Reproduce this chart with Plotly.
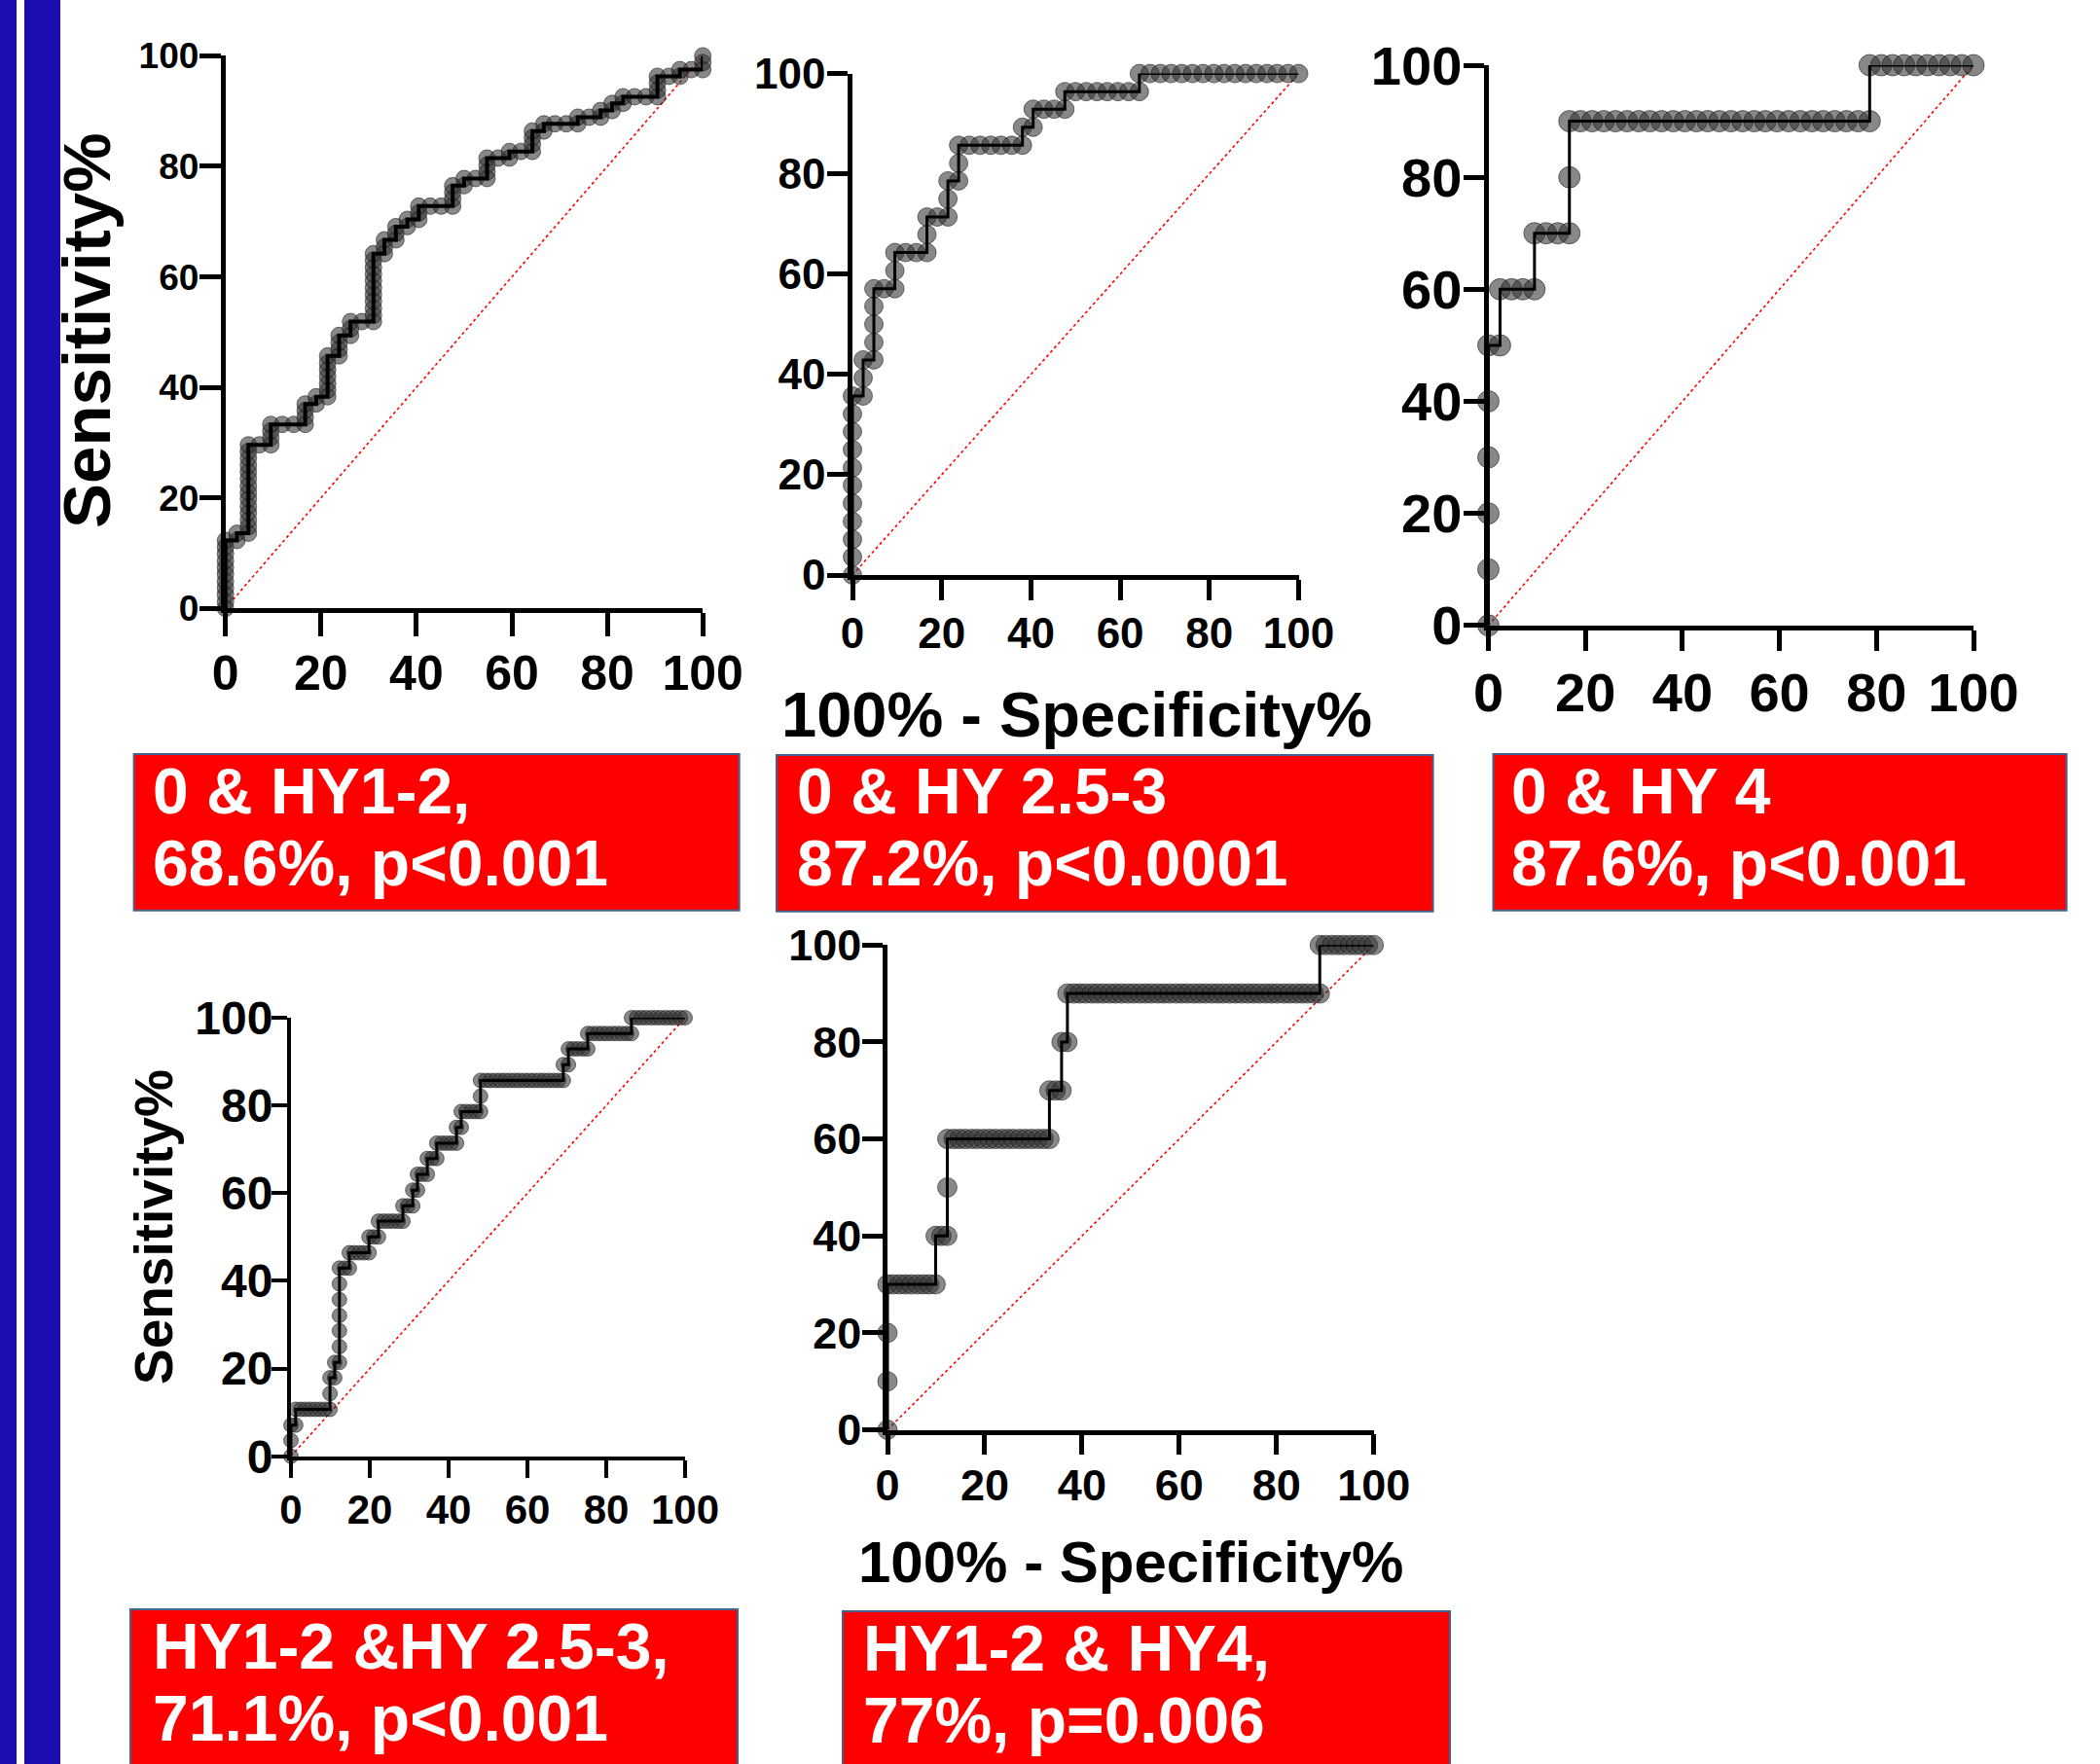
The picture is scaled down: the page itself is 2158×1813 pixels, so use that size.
import plotly.graph_objects as go

W, H = 2158, 1813
FONT = "Liberation Sans, Arial, sans-serif"

# ---------------- data: (100% - Specificity%, Sensitivity%) ----------------
# Panel 1: 0 & HY1-2
p1_x = [0, 0, 0, 0, 0, 0, 0, 0, 0, 0, 0,
        2.4, 2.4,
        4.8, 4.8, 4.8, 4.8, 4.8, 4.8, 4.8, 4.8, 4.8, 4.8, 4.8, 4.8, 4.8, 4.8,
        7.1,
        9.5, 9.5, 9.5, 9.5,
        11.9, 14.3,
        16.7, 16.7, 16.7, 16.7,
        19.0, 19.0,
        21.4, 21.4, 21.4, 21.4, 21.4, 21.4, 21.4,
        23.8, 23.8, 23.8, 23.8,
        26.2, 26.2, 26.2,
        28.6,
        31.0, 31.0, 31.0, 31.0, 31.0, 31.0, 31.0, 31.0, 31.0, 31.0, 31.0,
        33.3, 33.3, 33.3,
        35.7, 35.7, 35.7,
        38.1, 38.1,
        40.5, 40.5, 40.5,
        42.9, 45.2,
        47.6, 47.6, 47.6, 47.6,
        50.0, 50.0,
        52.4,
        54.8, 54.8, 54.8, 54.8,
        57.1,
        59.5, 59.5,
        61.9,
        64.3, 64.3, 64.3, 64.3,
        66.7, 66.7,
        69.0, 71.4,
        73.8, 73.8,
        76.2,
        78.6, 78.6,
        81.0, 81.0,
        83.3, 83.3,
        85.7, 88.1,
        90.5, 90.5, 90.5, 90.5,
        92.9,
        95.2, 95.2,
        97.6,
        100, 100, 100]
p1_y = [0, 1.2, 2.5, 3.7, 4.9, 6.2, 7.4, 8.6, 9.9, 11.1, 12.3,
        12.3, 13.6,
        13.6, 14.8, 16.0, 17.3, 18.5, 19.8, 21.0, 22.2, 23.5, 24.7, 25.9, 27.2, 28.4, 29.6,
        29.6,
        29.6, 30.9, 32.1, 33.3,
        33.3, 33.3,
        33.3, 34.6, 35.8, 37.0,
        37.0, 38.3,
        38.3, 39.5, 40.7, 42.0, 43.2, 44.4, 45.7,
        45.7, 46.9, 48.1, 49.4,
        49.4, 50.6, 51.9,
        51.9,
        51.9, 53.1, 54.3, 55.6, 56.8, 58.0, 59.3, 60.5, 61.7, 63.0, 64.2,
        64.2, 65.4, 66.7,
        66.7, 67.9, 69.1,
        69.1, 70.4,
        70.4, 71.6, 72.8,
        72.8, 72.8,
        72.8, 74.1, 75.3, 76.5,
        76.5, 77.8,
        77.8,
        77.8, 79.0, 80.2, 81.5,
        81.5,
        81.5, 82.7,
        82.7,
        82.7, 84.0, 85.2, 86.4,
        86.4, 87.7,
        87.7, 87.7,
        87.7, 88.9,
        88.9,
        88.9, 90.1,
        90.1, 91.4,
        91.4, 92.6,
        92.6, 92.6,
        92.6, 93.8, 95.1, 96.3,
        96.3,
        96.3, 97.5,
        97.5,
        97.5, 98.8, 100]

# Panel 2: 0 & HY 2.5-3
p2_x = [0, 0, 0, 0, 0, 0, 0, 0, 0, 0, 0,
        2.4, 2.4, 2.4,
        4.8, 4.8, 4.8, 4.8, 4.8,
        7.1,
        9.5, 9.5, 9.5,
        11.9, 14.3,
        16.7, 16.7, 16.7,
        19.0,
        21.4, 21.4, 21.4,
        23.8, 23.8, 23.8,
        26.2, 28.6, 31.0, 33.3, 35.7, 38.1, 38.1,
        40.5, 40.5,
        42.9, 45.2, 47.6, 47.6,
        50.0, 52.4, 54.8, 57.1, 59.5, 61.9, 64.3, 64.3,
        66.7, 69.0, 71.4, 73.8, 76.2, 78.6, 81.0, 83.3, 85.7, 88.1, 90.5, 92.9, 95.2, 97.6, 100]
p2_y = [0, 3.6, 7.1, 10.7, 14.3, 17.9, 21.4, 25.0, 28.6, 32.1, 35.7,
        35.7, 39.3, 42.9,
        42.9, 46.4, 50.0, 53.6, 57.1,
        57.1,
        57.1, 60.7, 64.3,
        64.3, 64.3,
        64.3, 67.9, 71.4,
        71.4,
        71.4, 75.0, 78.6,
        78.6, 82.1, 85.7,
        85.7, 85.7, 85.7, 85.7, 85.7, 85.7, 89.3,
        89.3, 92.9,
        92.9, 92.9, 92.9, 96.4,
        96.4, 96.4, 96.4, 96.4, 96.4, 96.4, 96.4, 100,
        100, 100, 100, 100, 100, 100, 100, 100, 100, 100, 100, 100, 100, 100, 100]

# Panel 3: 0 & HY 4
p3_x = [0, 0, 0, 0, 0, 0,
        2.4, 2.4, 4.8, 7.1, 9.5,
        9.5, 11.9, 14.3, 16.7,
        16.7, 16.7,
        19.0, 21.4, 23.8, 26.2, 28.6, 31.0, 33.3, 35.7, 38.1, 40.5, 42.9, 45.2, 47.6,
        50.0, 52.4, 54.8, 57.1, 59.5, 61.9, 64.3, 66.7, 69.0, 71.4, 73.8, 76.2, 78.6,
        78.6, 81.0, 83.3, 85.7, 88.1, 90.5, 92.9, 95.2, 97.6, 100]
p3_y = [0, 10, 20, 30, 40, 50,
        50, 60, 60, 60, 60,
        70, 70, 70, 70,
        80, 90,
        90, 90, 90, 90, 90, 90, 90, 90, 90, 90, 90, 90, 90,
        90, 90, 90, 90, 90, 90, 90, 90, 90, 90, 90, 90, 90,
        100, 100, 100, 100, 100, 100, 100, 100, 100, 100]

# Panel 4: HY1-2 & HY 2.5-3
p4_x = [0, 0, 0,
        1.2, 1.2,
        2.5, 3.7, 4.9, 6.2, 7.4, 8.6, 9.9,
        9.9, 9.9,
        11.1, 11.1,
        12.3, 12.3, 12.3, 12.3, 12.3, 12.3, 12.3,
        13.6, 14.8, 14.8,
        16.0, 17.3, 18.5, 19.8, 19.8,
        21.0, 22.2, 22.2,
        23.5, 24.7, 25.9, 27.2, 28.4, 28.4,
        29.6, 30.9, 30.9,
        32.1, 32.1,
        33.3, 34.6, 34.6,
        35.8, 37.0, 37.0,
        38.3, 39.5, 40.7, 42.0, 42.0,
        43.2, 43.2,
        44.4, 45.7, 46.9, 48.1, 48.1, 48.1,
        49.4, 50.6, 51.9, 53.1, 54.3, 55.6, 56.8, 58.0, 59.3, 60.5, 61.7, 63.0, 64.2,
        65.4, 66.7, 67.9, 69.1,
        69.1,
        70.4, 70.4,
        71.6, 72.8, 74.1, 75.3, 75.3,
        76.5, 77.8, 79.0, 80.2, 81.5, 82.7, 84.0, 85.2, 86.4,
        86.4,
        87.7, 88.9, 90.1, 91.4, 92.6, 93.8, 95.1, 96.3, 97.5, 98.8, 100]
p4_y = [0, 3.6, 7.1,
        7.1, 10.7,
        10.7, 10.7, 10.7, 10.7, 10.7, 10.7, 10.7,
        14.3, 17.9,
        17.9, 21.4,
        21.4, 25.0, 28.6, 32.1, 35.7, 39.3, 42.9,
        42.9, 42.9, 46.4,
        46.4, 46.4, 46.4, 46.4, 50.0,
        50.0, 50.0, 53.6,
        53.6, 53.6, 53.6, 53.6, 53.6, 57.1,
        57.1, 57.1, 60.7,
        60.7, 64.3,
        64.3, 64.3, 67.9,
        67.9, 67.9, 71.4,
        71.4, 71.4, 71.4, 71.4, 75.0,
        75.0, 78.6,
        78.6, 78.6, 78.6, 78.6, 82.1, 85.7,
        85.7, 85.7, 85.7, 85.7, 85.7, 85.7, 85.7, 85.7, 85.7, 85.7, 85.7, 85.7, 85.7,
        85.7, 85.7, 85.7, 85.7,
        89.3,
        89.3, 92.9,
        92.9, 92.9, 92.9, 92.9, 96.4,
        96.4, 96.4, 96.4, 96.4, 96.4, 96.4, 96.4, 96.4, 96.4,
        100,
        100, 100, 100, 100, 100, 100, 100, 100, 100, 100, 100]

# Panel 5: HY1-2 & HY4
p5_x = [0, 0, 0, 0,
        1.2, 2.5, 3.7, 4.9, 6.2, 7.4, 8.6, 9.9,
        9.9, 11.1, 12.3, 12.3, 12.3,
        13.6, 14.8, 16.0, 17.3, 18.5, 19.8, 21.0, 22.2, 23.5, 24.7, 25.9, 27.2, 28.4,
        29.6, 30.9, 32.1, 33.3,
        33.3, 34.6, 35.8, 35.8, 37.0, 37.0,
        38.3, 39.5, 40.7, 42.0, 43.2, 44.4, 45.7, 46.9, 48.1, 49.4, 50.6, 51.9, 53.1, 54.3,
        55.6, 56.8, 58.0, 59.3, 60.5, 61.7, 63.0, 64.2, 65.4, 66.7, 67.9, 69.1, 70.4, 71.6,
        72.8, 74.1, 75.3, 76.5, 77.8, 79.0, 80.2, 81.5, 82.7, 84.0, 85.2, 86.4, 87.7, 88.9,
        88.9,
        90.1, 91.4, 92.6, 93.8, 95.1, 96.3, 97.5, 98.8, 100]
p5_y = [0, 10, 20, 30,
        30, 30, 30, 30, 30, 30, 30, 30,
        40, 40, 40, 50, 60,
        60, 60, 60, 60, 60, 60, 60, 60, 60, 60, 60, 60, 60,
        60, 60, 60, 60,
        70, 70, 70, 80, 80, 90,
        90, 90, 90, 90, 90, 90, 90, 90, 90, 90, 90, 90, 90, 90,
        90, 90, 90, 90, 90, 90, 90, 90, 90, 90, 90, 90, 90, 90,
        90, 90, 90, 90, 90, 90, 90, 90, 90, 90, 90, 90, 90, 90,
        100,
        100, 100, 100, 100, 100, 100, 100, 100, 100]

tick_vals = [0, 20, 40, 60, 80, 100]
tick_text = ["0", "20", "40", "60", "80", "100"]

x_title = "100% - Specificity%"
y_title = "Sensitivity%"

box_lines = [
    ["0 & HY1-2,", "68.6%, p<0.001"],
    ["0 & HY 2.5-3", "87.2%, p<0.0001"],
    ["0 & HY 4", "87.6%, p<0.001"],
    ["HY1-2 &HY 2.5-3,", "71.1%, p<0.001"],
    ["HY1-2 & HY4,", "77%, p=0.006"],
]

# ---------------- layout configuration (pixels) ----------------
panels = [
    dict(x=p1_x, y=p1_y, dom=(231.7, 722.2, 57.4, 625.3), ms=17, lw=4, aw=5, tlx=24, tly=22,
         fx=50, fy=37, sox=-5, soy=-7),
    dict(x=p2_x, y=p2_y, dom=(876, 1334.5, 75.6, 591), ms=19, lw=3, aw=4.5, tlx=21, tly=21,
         fx=44, fy=44, sox=-4, soy=-7),
    dict(x=p3_x, y=p3_y, dom=(1529.5, 2028, 67, 642.8), ms=22, lw=3, aw=5, tlx=21, tly=21,
         fx=56, fy=56, sox=-5, soy=-10),
    dict(x=p4_x, y=p4_y, dom=(299, 704, 1046, 1496.7), ms=15, lw=3, aw=4, tlx=18, tly=16,
         fx=42, fy=48, sox=-3, soy=-11),
    dict(x=p5_x, y=p5_y, dom=(912, 1411.7, 971.3, 1469.5), ms=20, lw=3, aw=4.5, tlx=21, tly=21,
         fx=45, fy=45, sox=-7, soy=-8),
]

# text baselines per box line (pixels from top)
boxes = [
    dict(x0=137.6, x1=759.7, y0=775, y1=935.7, tx=155.5, base=(836, 910)),
    dict(x0=798, x1=1472.6, y0=776, y1=936.7, tx=817.5, base=(836, 910)),
    dict(x0=1534.5, x1=2123.6, y0=775, y1=935.7, tx=1552, base=(836, 910)),
    dict(x0=134, x1=758, y0=1654, y1=1830, tx=155.5, base=(1715, 1789)),
    dict(x0=866, x1=1490, y0=1656, y1=1830, tx=886, base=(1717, 1791)),
]
BOX_FONT = 66


def px(v):
    return v / W


def py(v):
    return 1 - v / H


fig = go.Figure()
layout = dict(template="none", width=W, height=H, autosize=False,
              margin=dict(l=0, r=0, t=0, b=0, pad=0, autoexpand=False),
              paper_bgcolor="white", plot_bgcolor="white",
              showlegend=False)

for i, p in enumerate(panels, start=1):
    xa = "x" if i == 1 else f"x{i}"
    ya = "y" if i == 1 else f"y{i}"
    x0, x1, y0, y1 = p["dom"]
    common = dict(range=[0, 100], tickvals=tick_vals, ticktext=tick_text,
                  showline=True, linecolor="black", linewidth=p["aw"],
                  ticks="outside", tickcolor="black", tickwidth=p["aw"],
                  showgrid=False, zeroline=False, fixedrange=True, automargin=False)
    layout["xaxis" if i == 1 else f"xaxis{i}"] = dict(
        domain=[px(x0), px(x1)], anchor=ya, ticklen=p["tlx"], ticklabelstandoff=p["sox"],
        tickfont=dict(family=FONT, size=p["fx"], color="black", weight="bold"), **common)
    layout["yaxis" if i == 1 else f"yaxis{i}"] = dict(
        domain=[py(y1), py(y0)], anchor=xa, ticklen=p["tly"], ticklabelstandoff=p["soy"],
        tickfont=dict(family=FONT, size=p["fy"], color="black", weight="bold"), **common)

    fig.add_trace(go.Scatter(x=[0, 100], y=[0, 100], mode="lines", xaxis=xa, yaxis=ya,
                             line=dict(color="#ff0000", width=1.6, dash="dot"),
                             hoverinfo="skip"))
    fig.add_trace(go.Scatter(x=p["x"], y=p["y"], mode="markers", xaxis=xa, yaxis=ya,
                             cliponaxis=False,
                             marker=dict(size=p["ms"], color="rgba(50,50,50,0.58)",
                                         line=dict(color="rgba(20,20,20,0.55)", width=1))))
    fig.add_trace(go.Scatter(x=p["x"], y=p["y"], mode="lines", xaxis=xa, yaxis=ya,
                             cliponaxis=False,
                             line=dict(color="black", width=p["lw"])))

shapes = [
    dict(type="rect", xref="paper", yref="paper", x0=px(0), x1=px(17), y0=0, y1=1,
         fillcolor="#1B0DAF", line=dict(width=0)),
    dict(type="rect", xref="paper", yref="paper", x0=px(25), x1=px(62), y0=0, y1=1,
         fillcolor="#1B0DAF", line=dict(width=0)),
]
annotations = []
# centre of a single text line's box relative to its baseline (Arial-metric font)
center_shift = (0.905 - 1.117 / 2) * BOX_FONT
for b, lines in zip(boxes, box_lines):
    shapes.append(dict(type="rect", xref="paper", yref="paper",
                       x0=px(b["x0"]), x1=px(b["x1"]), y0=py(b["y1"]), y1=py(b["y0"]),
                       fillcolor="#FF0000", line=dict(color="#41648F", width=2)))
    for txt, base in zip(lines, b["base"]):
        annotations.append(dict(text=txt, xref="paper", yref="paper",
                                x=px(b["tx"]), y=py(base - center_shift),
                                xanchor="left", yanchor="middle", borderpad=0,
                                showarrow=False,
                                font=dict(family=FONT, size=BOX_FONT, color="white", weight="bold")))

# axis titles
annotations += [
    dict(text=y_title, xref="paper", yref="paper", x=px(90), y=py(340), textangle=-90,
         xanchor="center", yanchor="middle", showarrow=False,
         font=dict(family=FONT, size=69, color="black", weight="bold")),
    dict(text=x_title, xref="paper", yref="paper", x=px(1106), y=py(734),
         xanchor="center", yanchor="middle", showarrow=False,
         font=dict(family=FONT, size=65, color="black", weight="bold")),
    dict(text=y_title, xref="paper", yref="paper", x=px(158), y=py(1261), textangle=-90,
         xanchor="center", yanchor="middle", showarrow=False,
         font=dict(family=FONT, size=55, color="black", weight="bold")),
    dict(text=x_title, xref="paper", yref="paper", x=px(1162), y=py(1605),
         xanchor="center", yanchor="middle", showarrow=False,
         font=dict(family=FONT, size=60, color="black", weight="bold")),
]

layout["shapes"] = shapes
layout["annotations"] = annotations
fig.update_layout(**layout)
fig.write_html("out.html", config={"displayModeBar": False},
               post_script="document.body.style.margin='0';document.body.style.overflow='hidden';")
